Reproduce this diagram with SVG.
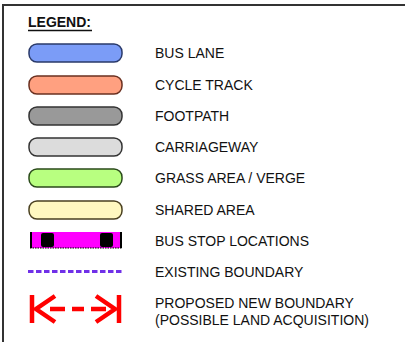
<svg xmlns="http://www.w3.org/2000/svg" width="405" height="342" viewBox="0 0 405 342">
<style>
text{font-family:"Liberation Sans",Arial,sans-serif;font-size:14px;fill:#111}
.sw{stroke-width:1.5}
</style>
<rect width="405" height="342" fill="#fff"/>
<g id="frame" stroke="#333" stroke-width="2" fill="none">
<path d="M3,342 V5 H405"/>
</g>
<g id="title">
<text x="28" y="27" font-weight="bold" style="font-weight:bold">LEGEND:</text>
<line x1="28" y1="30.5" x2="92" y2="30.5" stroke="#111" stroke-width="1.5"/>
</g>
<g id="bus-lane">
<rect class="sw" x="29" y="44" width="93" height="18" rx="8" fill="#7b9cf7" stroke="#2a3a6a"/>
<text x="155" y="58">BUS LANE</text>
</g>
<g id="cycle-track">
<rect class="sw" x="29" y="76" width="93" height="18" rx="8" fill="#ffa080" stroke="#6a3020"/>
<text x="155" y="90">CYCLE TRACK</text>
</g>
<g id="footpath">
<rect class="sw" x="29" y="107" width="93" height="18" rx="8" fill="#999999" stroke="#333"/>
<text x="155" y="121">FOOTPATH</text>
</g>
<g id="carriageway">
<rect class="sw" x="29" y="138" width="93" height="18" rx="8" fill="#dcdcdc" stroke="#333"/>
<text x="155" y="152">CARRIAGEWAY</text>
</g>
<g id="grass">
<rect class="sw" x="29" y="169" width="93" height="18" rx="8" fill="#b8ff80" stroke="#2a4a1a"/>
<text x="155" y="183">GRASS AREA / VERGE</text>
</g>
<g id="shared">
<rect class="sw" x="29" y="201" width="93" height="18" rx="8" fill="#fff8c0" stroke="#4a4020"/>
<text x="155" y="215">SHARED AREA</text>
</g>
<g id="bus-stop">
<rect x="30" y="232" width="92" height="16" fill="#ff00ff"/>
<line x1="31" y1="232" x2="31" y2="248" stroke="#000" stroke-width="2"/>
<line x1="121" y1="232" x2="121" y2="248" stroke="#000" stroke-width="2"/>
<line x1="30" y1="248" x2="122" y2="248" stroke="#000" stroke-width="1.2" stroke-dasharray="1.5 1"/>
<rect x="41" y="233" width="13" height="14" rx="2" fill="#000"/>
<rect x="100" y="233" width="13" height="14" rx="2" fill="#000"/>
<text x="155" y="246">BUS STOP LOCATIONS</text>
</g>
<g id="existing-boundary">
<line x1="28" y1="271.5" x2="122" y2="271.5" stroke="#7030e8" stroke-width="3" stroke-dasharray="5.5 2.5"/>
<text x="155" y="277">EXISTING BOUNDARY</text>
</g>
<g id="proposed-boundary">
<g fill="none" stroke="#ff0000" stroke-width="4.5">
<line x1="32" y1="295" x2="32" y2="323"/>
<line x1="119" y1="295" x2="119" y2="323"/>
<polyline points="55,296 36,309 55,322"/>
<polyline points="96,296 115,309 96,322"/>
<line x1="38" y1="309" x2="113" y2="309" stroke-dasharray="0 12 15 7 12 7 15 40"/>
</g>
<text x="155" y="308">PROPOSED NEW BOUNDARY</text>
<text x="155" y="325">(POSSIBLE LAND ACQUISITION)</text>
</g>
</svg>
